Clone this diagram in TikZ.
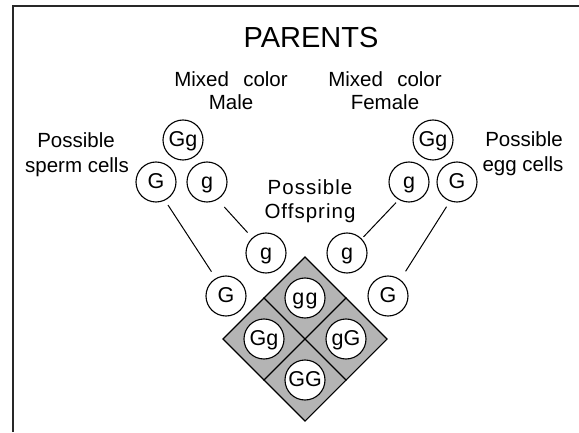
\documentclass[tikz,border=0pt]{standalone}
\usepackage{fontspec}
\setmainfont{Liberation Sans}
\newfontfamily\spacedfont[LetterSpace=5]{Liberation Sans}
\definecolor{sqgray}{RGB}{180,180,180}
\definecolor{framegray}{RGB}{40,40,40}
\begin{document}
\begin{tikzpicture}[x=1pt,y=-1pt,
  cell/.style={circle, draw, line width=1.1pt, minimum size=40pt, inner sep=0pt,
    font=\fontsize{21.5}{24}\selectfont, text height=15pt, text depth=2pt, fill=white},
  lab/.style={font=\fontsize{20.5}{23}\selectfont, anchor=base, inner sep=0pt},
  title/.style={font=\fontsize{29}{32}\selectfont, anchor=base, inner sep=0pt},
  conn/.style={line width=1pt}]
\useasboundingbox (0,0) rectangle (579,433);
% frame
\draw[line width=2pt, framegray] (12.5,432) -- (12.5,6) -- (579,6);
% labels
\node[title] (parents) at (311,48) {PARENTS};
\node[lab] (mixm1) at (231,87) {Mixed\hspace{0.7em}color};
\node[lab] (mixm2) at (231,110) {Male};
\node[lab] (mixf1) at (385,87) {Mixed\hspace{0.7em}color};
\node[lab] (mixf2) at (385,110) {Female};
\node[lab] (sp1) at (76,148) {Possible};
\node[lab] (sp2) at (77,173) {sperm cells};
\node[lab] (eg1) at (524,147) {Possible};
\node[lab] (eg2) at (523,172) {egg cells};
\node[lab, font=\fontsize{20.5}{23}\spacedfont] (of1) at (310,195) {Possible};
\node[lab, font=\fontsize{20.5}{23}\spacedfont] (of2) at (310,219) {Offspring};
% parents
\node[cell] (mGg) at (183,140) {Gg};
\node[cell] (fGg) at (433,140) {Gg};
% gametes
\node[cell] (sG) at (156,182) {G};
\node[cell] (sg) at (207,182) {g};
\node[cell] (eg) at (409,182) {g};
\node[cell] (eG) at (457,182) {G};
\node[cell] (lg) at (266,253) {g};
\node[cell] (rg) at (347,253) {g};
\node[cell] (lG) at (226,296) {G};
\node[cell] (rG) at (388,296) {G};
% connectors
\draw[conn, shorten <=5.5pt, shorten >=7.8pt] (sG.-64) -- (lG.120);
\draw[conn, shorten <=10pt, shorten >=6.9pt] (sg.-59) -- (lg.132);
\draw[conn, shorten <=4pt, shorten >=2.6pt] (eg.240) -- (rg.44);
\draw[conn, shorten <=6.4pt, shorten >=9.8pt] (eG.250) -- (rG.53);
% punnett square
\node[draw, line width=1.1pt, fill=sqgray, rectangle, minimum size=116pt, inner sep=0pt, rotate=45] (sq) at (305,339) {};
\draw[line width=1.1pt] (sq.north) -- (sq.south);
\draw[line width=1.1pt] (sq.east) -- (sq.west);
\node[cell] (ogg) at (305,298) {g\kern1.5pt g};
\node[cell] (oGg) at (264,339) {Gg};
\node[cell] (ogG) at (346,339) {gG};
\node[cell] (oGG) at (305,380) {GG};
\end{tikzpicture}
\end{document}
